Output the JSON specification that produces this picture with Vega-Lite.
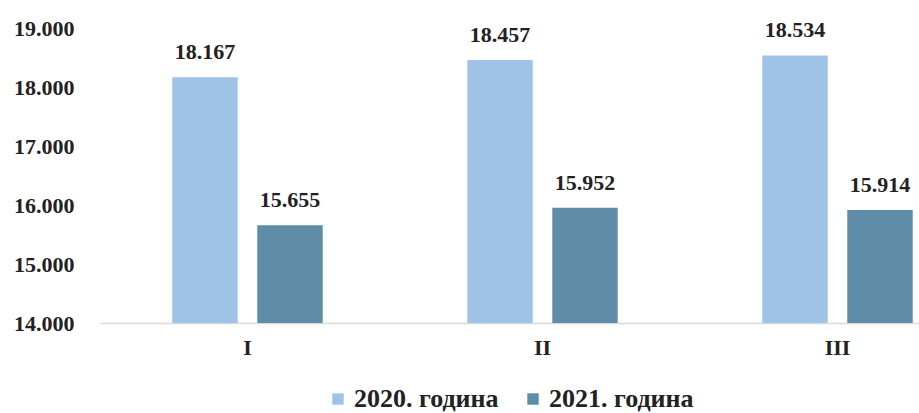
{
  "$schema": "https://vega.github.io/schema/vega-lite/v6.json",
  "width": 819,
  "height": 295,
  "autosize": {"type": "none"},
  "padding": {"left": 100, "top": 28, "right": 0, "bottom": 90},
  "background": "white",
  "config": {
    "locale": {"number": {"decimal": ",", "thousands": ".", "grouping": [3], "currency": ["", ""]}},
    "view": {"stroke": null},
    "font": "Liberation Serif"
  },
  "data": {
    "values": [
      {"q": "I", "year": "2020. година", "value": 18167},
      {"q": "I", "year": "2021. година", "value": 15655},
      {"q": "II", "year": "2020. година", "value": 18457},
      {"q": "II", "year": "2021. година", "value": 15952},
      {"q": "III", "year": "2020. година", "value": 18534},
      {"q": "III", "year": "2021. година", "value": 15914}
    ]
  },
  "encoding": {
    "x": {
      "field": "q", "type": "nominal", "sort": ["I", "II", "III"],
      "scale": {"range": [0, 885], "paddingInner": 0.49, "paddingOuter": 0.245},
      "axis": {"title": null, "labelAngle": 0, "labelFont": "Liberation Serif", "labelFontWeight": "bold", "labelFontSize": 22, "labelColor": "#222", "labelPadding": 14, "ticks": false, "domainColor": "#d9d9d9", "domainWidth": 1.5, "grid": false}
    },
    "xOffset": {"field": "year", "type": "nominal", "scale": {"paddingInner": 0.23}},
    "y": {
      "field": "value", "type": "quantitative",
      "scale": {"domain": [14000, 19000], "zero": false, "nice": false},
      "axis": {"title": null, "values": [14000, 15000, 16000, 17000, 18000, 19000], "format": ",d", "labelFont": "Liberation Serif", "labelFontWeight": "bold", "labelFontSize": 22, "labelColor": "#222", "labelPadding": 26, "ticks": false, "domain": false, "grid": false}
    }
  },
  "layer": [
    {
      "mark": {"type": "bar", "clip": true},
      "encoding": {
        "color": {
          "field": "year", "type": "nominal",
          "scale": {"domain": ["2020. година", "2021. година"], "range": ["#9fc3e7", "#5f8ca6"]},
          "legend": {"title": null, "orient": "none", "legendX": 225, "legendY": 358, "direction": "horizontal", "symbolType": "square", "symbolSize": 130, "symbolStrokeWidth": 0, "labelFont": "Liberation Serif", "labelFontWeight": "bold", "labelFontSize": 26, "labelColor": "#222", "labelOffset": 3, "columnPadding": 21}
        }
      }
    },
    {
      "mark": {"type": "text", "dy": -25, "font": "Liberation Serif", "fontWeight": "bold", "fontSize": 22, "color": "#222"},
      "encoding": {
        "text": {"field": "value", "type": "quantitative", "format": ",d"}
      }
    }
  ]
}
